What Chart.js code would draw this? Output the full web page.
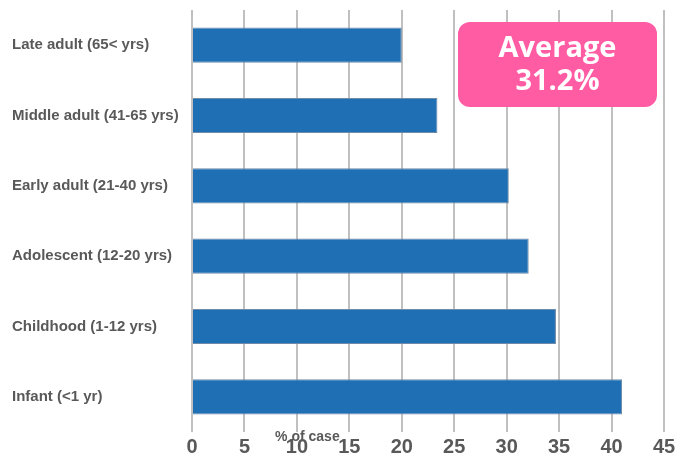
<!DOCTYPE html>
<html>
<head>
<meta charset="utf-8">
<script src="https://cdn.jsdelivr.net/npm/chart.js@4"></script>
<style>
  body { margin: 0; background: #fff; }
</style>
</head>
<body>
<canvas id="chart" width="676" height="460"></canvas>
<script>
const categories = ['Late adult (65< yrs)', 'Middle adult (41-65 yrs)', 'Early adult (21-40 yrs)',
  'Adolescent (12-20 yrs)', 'Childhood (1-12 yrs)', 'Infant (<1 yr)'];
const caseShare = [20.0, 23.4, 30.2, 32.1, 34.7, 41.0];
const xTicks = [0, 5, 10, 15, 20, 25, 30, 35, 40, 45];
const averageLines = ['Average', '31.2%'];
const axisTitle = '% of case';

// average badge + axis title drawn on top
const extras = {
  id: 'extras',
  afterDraw(chart) {
    const ctx = chart.ctx;
    const area = chart.chartArea;
    const x = chart.scales.x;
    ctx.save();
    // pink badge
    const bx = 458, by = 22, bw = 199, bh = 85, r = 12;
    ctx.fillStyle = '#FF5CA4';
    ctx.beginPath();
    ctx.roundRect(bx, by, bw, bh, r);
    ctx.fill();
    ctx.fillStyle = '#fff';
    ctx.font = 'bold 29px "Open Sans", sans-serif';
    ctx.textAlign = 'center';
    ctx.textBaseline = 'middle';
    ctx.fillText(averageLines[0], bx + bw / 2, by + 27);
    ctx.fillText(averageLines[1], bx + bw / 2, by + 60);
    // axis title sits just under the plot
    ctx.fillStyle = '#595959';
    ctx.font = 'bold 14px "Liberation Sans", Arial, sans-serif';
    ctx.textBaseline = 'middle';
    ctx.fillText(axisTitle, x.getPixelForValue(11), area.bottom + 5);
    ctx.restore();
  }
};

new Chart(document.getElementById('chart').getContext('2d'), {
  type: 'bar',
  data: {
    labels: categories,
    datasets: [{
      data: caseShare,
      backgroundColor: '#1F6FB4',
      borderColor: '#6F8BA8',
      borderWidth: 1,
      barPercentage: 0.5,
      categoryPercentage: 1.0
    }]
  },
  options: {
    indexAxis: 'y',
    responsive: false,
    animation: false,
    layout: { padding: { left: 12, right: 12, top: 10, bottom: 1 } },
    plugins: { legend: { display: false }, tooltip: { enabled: false } },
    scales: {
      x: {
        min: 0,
        max: 45,
        afterBuildTicks(axis) { axis.ticks = xTicks.map(v => ({ value: v })); },
        afterFit(scale) {
          scale.height = 27;
          scale.paddingBottom = 0;
          scale.paddingLeft = 0;
          scale.paddingRight = 0;
        },
        grid: { color: '#C0C0C0', lineWidth: 2, drawTicks: false },
        border: { display: false },
        ticks: {
          color: '#595959',
          padding: 5,
          font: { family: '"Liberation Sans", Arial, sans-serif', size: 20, weight: 'bold', lineHeight: 1 }
        }
      },
      y: {
        afterFit(scale) {
          scale.width = 180;
          scale.paddingTop = 0;
          scale.paddingBottom = 0;
        },
        grid: { display: false },
        border: { display: false },
        ticks: {
          color: '#595959',
          crossAlign: 'far',
          padding: 10,
          font: { family: '"Liberation Sans", Arial, sans-serif', size: 15, weight: 'bold' }
        }
      }
    }
  },
  plugins: [extras]
});
</script>
</body>
</html>
